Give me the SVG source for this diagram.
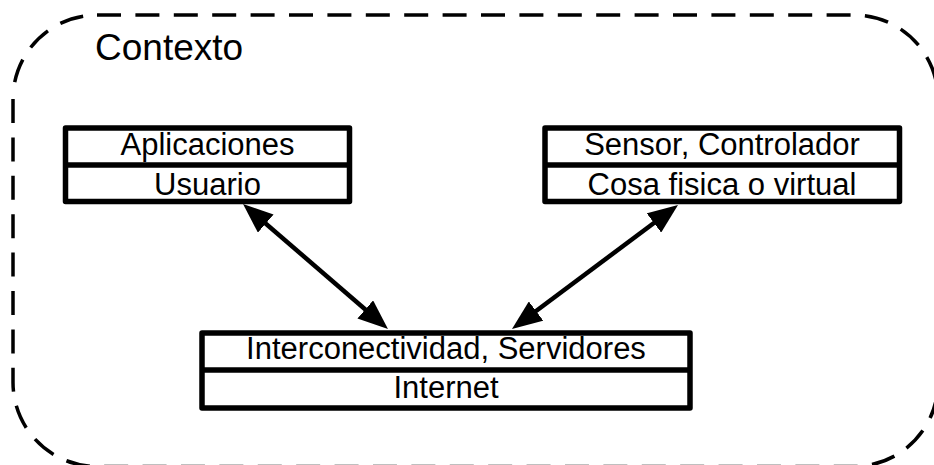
<svg xmlns="http://www.w3.org/2000/svg" width="934" height="465" viewBox="0 0 934 465">
  <defs>
    <style>
      .frame { fill: none; stroke: #000; stroke-width: 3.5; stroke-dasharray: 24 14.4; }
      .box { fill: #fff; stroke: #000; stroke-width: 5.5; stroke-linejoin: round; }
      .sep { stroke: #000; stroke-width: 5.5; }
      .lbl { font-family: "Liberation Sans", Arial, sans-serif; font-size: 31px; fill: #000; text-anchor: middle; }
      .title { font-family: "Liberation Sans", Arial, sans-serif; font-size: 37px; fill: #000; }
      .link { stroke: #000; stroke-width: 4.5; fill: none; marker-start: url(#head); marker-end: url(#head); }
    </style>
    <marker id="head" viewBox="0 0 30 24" markerUnits="userSpaceOnUse" markerWidth="30" markerHeight="24" refX="20" refY="12" orient="auto-start-reverse">
      <path d="M0,0 L30,12 L0,24 Z" fill="#000"/>
    </marker>
  </defs>

  <!-- context boundary: dashed rounded outline, drawn in three runs so the dash phase starts at each run -->
  <g id="contexto">
    <path class="frame" d="M97,15 H854 A84,84 0 0 1 938,99 V382.5"/>
    <path class="frame" d="M13,99 V382.5 A84,84 0 0 0 97,466.5 H854 A84,84 0 0 0 938,382.5"/>
    <path class="frame" style="stroke-dasharray: 0 17 24 14.4 24 14.4 24 14.4" d="M13,99 A84,84 0 0 1 97,15"/>
    <text class="title" x="95" y="59.5">Contexto</text>
  </g>

  <!-- connectors -->
  <g id="connectors">
    <line class="link" x1="250.6" y1="210.5" x2="380.4" y2="322.5"/>
    <line class="link" x1="670" y1="211" x2="520" y2="323"/>
  </g>

  <g id="usuario">
    <rect class="box" x="65.5" y="128" width="284" height="73.5"/>
    <line class="sep" x1="65.5" y1="165" x2="349.5" y2="165"/>
    <text class="lbl" x="207.5" y="155">Aplicaciones</text>
    <text class="lbl" x="207.5" y="195">Usuario</text>
  </g>

  <g id="cosa">
    <rect class="box" x="545" y="128" width="354.5" height="73.5"/>
    <line class="sep" x1="545" y1="165" x2="899.5" y2="165"/>
    <text class="lbl" x="722" y="155">Sensor, Controlador</text>
    <text class="lbl" x="722" y="195">Cosa fisica o virtual</text>
  </g>

  <g id="internet">
    <rect class="box" x="202" y="333" width="488" height="75"/>
    <line class="sep" x1="202" y1="370" x2="690" y2="370"/>
    <text class="lbl" x="446" y="359">Interconectividad, Servidores</text>
    <text class="lbl" x="446" y="398">Internet</text>
  </g>
</svg>
